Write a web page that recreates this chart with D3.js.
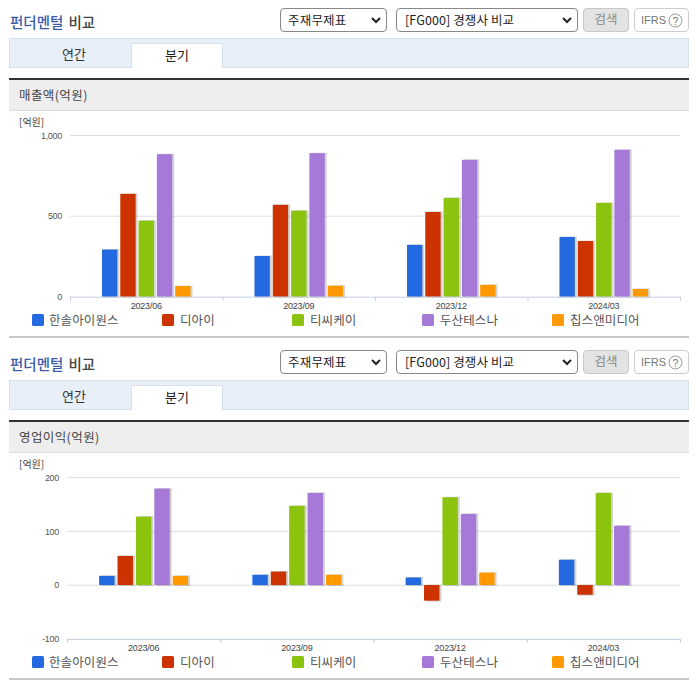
<!DOCTYPE html>
<html><head><meta charset="utf-8">
<script src="https://cdn.jsdelivr.net/npm/d3@7"></script>
<style>
html,body{margin:0;padding:0;background:#fff}
svg{display:block}
text{font-family:"Noto Sans CJK KR","Noto Sans",sans-serif}
.num text,text.num{font-family:"Liberation Sans",Arial,sans-serif}
</style></head><body>
<svg id="c" width="696" height="684"></svg>
<script>
const periods = ["2023/06","2023/09","2023/12","2024/03"];
const companies = ["한솔아이원스","디아이","티씨케이","두산테스나","칩스앤미디어"];
const colors = ["#2369df","#cc3300","#8cc30f","#a678d8","#ff9900"];
const salesTitle = "매출액(억원)";
const salesTicks = [0,500,1000];
const salesHansol = [292,252,321,370];
const salesDI = [637,569,525,345];
const salesTCK = [471,533,612,581];
const salesTesna = [883,889,848,910];
const salesChips = [66,68,73,48];
const profitTitle = "영업이익(억원)";
const profitTicks = [-100,0,100,200];
const profitHansol = [17,19,14,47];
const profitDI = [54,25,-29,-18];
const profitTCK = [127,147,163,171];
const profitTesna = [179,171,132,110];
const profitChips = [17,19,23,null];

const svg = d3.select("#c");
const FONT_NUM = '"Liberation Sans",Arial,sans-serif';
const tickFmt = d => d3.format(",")(d).replace("\u2212","-");

function header(g){
  g.append("text").attr("x",10).attr("y",28).attr("font-size",14.5).attr("font-weight",500)
    .call(t=>{t.append("tspan").attr("fill","#3b5ba9").text("펀더멘털");
              t.append("tspan").attr("fill","#444").attr("dx",5).text("비교");});
  const box=(x,w,fill,stroke)=>g.append("rect").attr("x",x+.5).attr("y",8.5).attr("width",w-1).attr("height",23)
    .attr("rx",3.5).attr("fill",fill).attr("stroke",stroke);
  const chev=x=>g.append("path").attr("d",`M${x},18 l4,4 l4,-4`).attr("fill","none").attr("stroke","#222").attr("stroke-width",2);
  box(280,107,"#fff","#888"); chev(372);
  g.append("text").attr("x",288).attr("y",24.5).attr("font-size",12.5).attr("fill","#222").attr("letter-spacing",.2).text("주재무제표");
  box(396,182,"#fff","#888"); chev(563);
  g.append("text").attr("x",405).attr("y",24.5).attr("font-size",12.5).attr("fill","#222").attr("letter-spacing",.1).text("[FG000] 경쟁사 비교");
  box(583,46,"#e3e3e3","#c8c8c8");
  g.append("text").attr("x",606).attr("y",24).attr("text-anchor","middle").attr("font-size",12.5).attr("fill","#888").text("검색");
  box(634,55,"#fff","#ccc");
  g.append("text").attr("x",641).attr("y",24).attr("font-size",11).attr("fill","#777").attr("style",`font-family:${FONT_NUM}`).text("IFRS");
  g.append("circle").attr("cx",675.5).attr("cy",20.5).attr("r",6.5).attr("fill","none").attr("stroke","#999");
  g.append("text").attr("x",675.5).attr("y",24.5).attr("text-anchor","middle").attr("font-size",10.5).attr("fill","#777").attr("style",`font-family:${FONT_NUM}`).text("?");
  // tabs
  g.append("rect").attr("x",9.5).attr("y",38.5).attr("width",679).attr("height",29).attr("fill","#e8eff9").attr("stroke","#d7dfea");
  g.append("path").attr("d","M131.5,68 V43.5 H222.5 V68").attr("fill","#fff").attr("stroke","#d7dfea");
  g.append("text").attr("x",74).attr("y",59).attr("text-anchor","middle").attr("font-size",13).attr("fill","#333").text("연간");
  g.append("text").attr("x",177).attr("y",60).attr("text-anchor","middle").attr("font-size",13).attr("fill","#222").text("분기");
  // section head
  g.append("rect").attr("x",9).attr("y",80).attr("width",680).attr("height",30).attr("fill","#eeeeee");
  g.append("rect").attr("x",9).attr("y",78).attr("width",680).attr("height",2).attr("fill","#333");
  g.append("rect").attr("x",9).attr("y",110).attr("width",680).attr("height",1).attr("fill","#dedede");
}

function chart(g, opt){
  header(g);
  g.append("text").attr("x",19).attr("y",100).attr("font-size",12.5).attr("fill","#444").attr("letter-spacing",.4).text(opt.title);
  g.append("text").attr("x",19).attr("y",opt.unitY).attr("font-size",10).attr("fill","#444").text("[억원]");
  const x = d3.scaleBand().domain(periods).range(opt.xr);
  const inner = d3.scaleBand().domain(companies).range([x.bandwidth()*.2,x.bandwidth()*.8]).paddingInner(.16).paddingOuter(.08);
  const y = d3.scaleLinear().domain(opt.domain).range(opt.yr);
  // grid + left labels
  const ya = g.append("g").attr("class","num").attr("transform",`translate(${opt.labelX},0)`)
    .call(d3.axisLeft(y).tickValues(opt.ticks).tickSize(0).tickPadding(0).tickFormat(tickFmt));
  ya.select(".domain").remove();
  ya.selectAll("text").attr("font-size",9).attr("letter-spacing",-.3).attr("fill","#555");
  g.append("g").selectAll("line").data(opt.ticks.filter(t=>t!==opt.domain[0])).join("line")
    .attr("x1",opt.xr[0]).attr("x2",opt.xr[1]).attr("y1",d=>y(d)+.2).attr("y2",d=>y(d)+.2).attr("stroke","#dcdfe4");
  // bars
  const series = g.append("g").selectAll("g").data(opt.series.map((v,i)=>({name:companies[i],color:colors[i],v}))).join("g");
  const cells = s => s.v.map((d,i)=>({d,p:periods[i]})).filter(c=>c.d!==null);
  series.each(function(s){
    const el=d3.select(this);
    el.selectAll("rect.sh").data(cells(s)).join("rect").attr("class","sh")
      .attr("x",c=>x(c.p)+inner(s.name)+2)
      .attr("y",c=>Math.min(y(c.d),y(0))-.5)
      .attr("width",inner.bandwidth())
      .attr("height",c=>Math.abs(y(c.d)-y(0))+1.5)
      .attr("fill","#000").attr("opacity",.17);
    el.selectAll("rect.b").data(cells(s)).join("rect").attr("class","b")
      .attr("x",c=>x(c.p)+inner(s.name))
      .attr("y",c=>Math.min(y(c.d),y(0)))
      .attr("width",inner.bandwidth())
      .attr("height",c=>Math.abs(y(c.d)-y(0)))
      .attr("fill",s.color);
  });
  // x axis at bottom of the domain
  const xa = g.append("g").attr("class","num").attr("transform",`translate(0,${y(opt.domain[0])})`)
    .call(d3.axisBottom(x).tickSize(0).tickPadding(6));
  xa.select(".domain").attr("stroke","#c3cfe0");
  xa.selectAll("text").attr("font-size",9).attr("letter-spacing",-.2).attr("fill","#444");
  g.append("g").selectAll("line").data([...periods.map(p=>x(p)),opt.xr[1]]).join("line")
    .attr("x1",d=>d+.5).attr("x2",d=>d+.5).attr("y1",y(opt.domain[0])).attr("y2",y(opt.domain[0])+4).attr("stroke","#c3cfe0");
  // legend
  const lx = d3.scalePoint().domain(companies).range([32,552]);
  const lg = g.append("g").selectAll("g").data(companies).join("g").attr("transform",d=>`translate(${lx(d)},314)`);
  lg.append("rect").attr("width",12).attr("height",12).attr("rx",1.5).attr("fill",(d,i)=>colors[i]);
  lg.append("text").attr("x",d=>d==="한솔아이원스"?17:18).attr("y",11).attr("font-size",12.5).attr("fill","#555").attr("letter-spacing",.1).text(d=>d);
  g.append("rect").attr("x",9).attr("y",336).attr("width",680).attr("height",2).attr("fill","#c8c8c8");
}

chart(svg.append("g"),{
  title:salesTitle, unitY:126, domain:[0,1000], yr:[296.7,135.3], xr:[70,680], labelX:62, ticks:salesTicks,
  series:[salesHansol,salesDI,salesTCK,salesTesna,salesChips]
});
chart(svg.append("g").attr("transform","translate(0,342)"),{
  title:profitTitle, unitY:126, domain:[-100,200], yr:[296.9,135.3], xr:[67,680], labelX:59, ticks:profitTicks,
  series:[profitHansol,profitDI,profitTCK,profitTesna,profitChips]
});
</script>
</body></html>
